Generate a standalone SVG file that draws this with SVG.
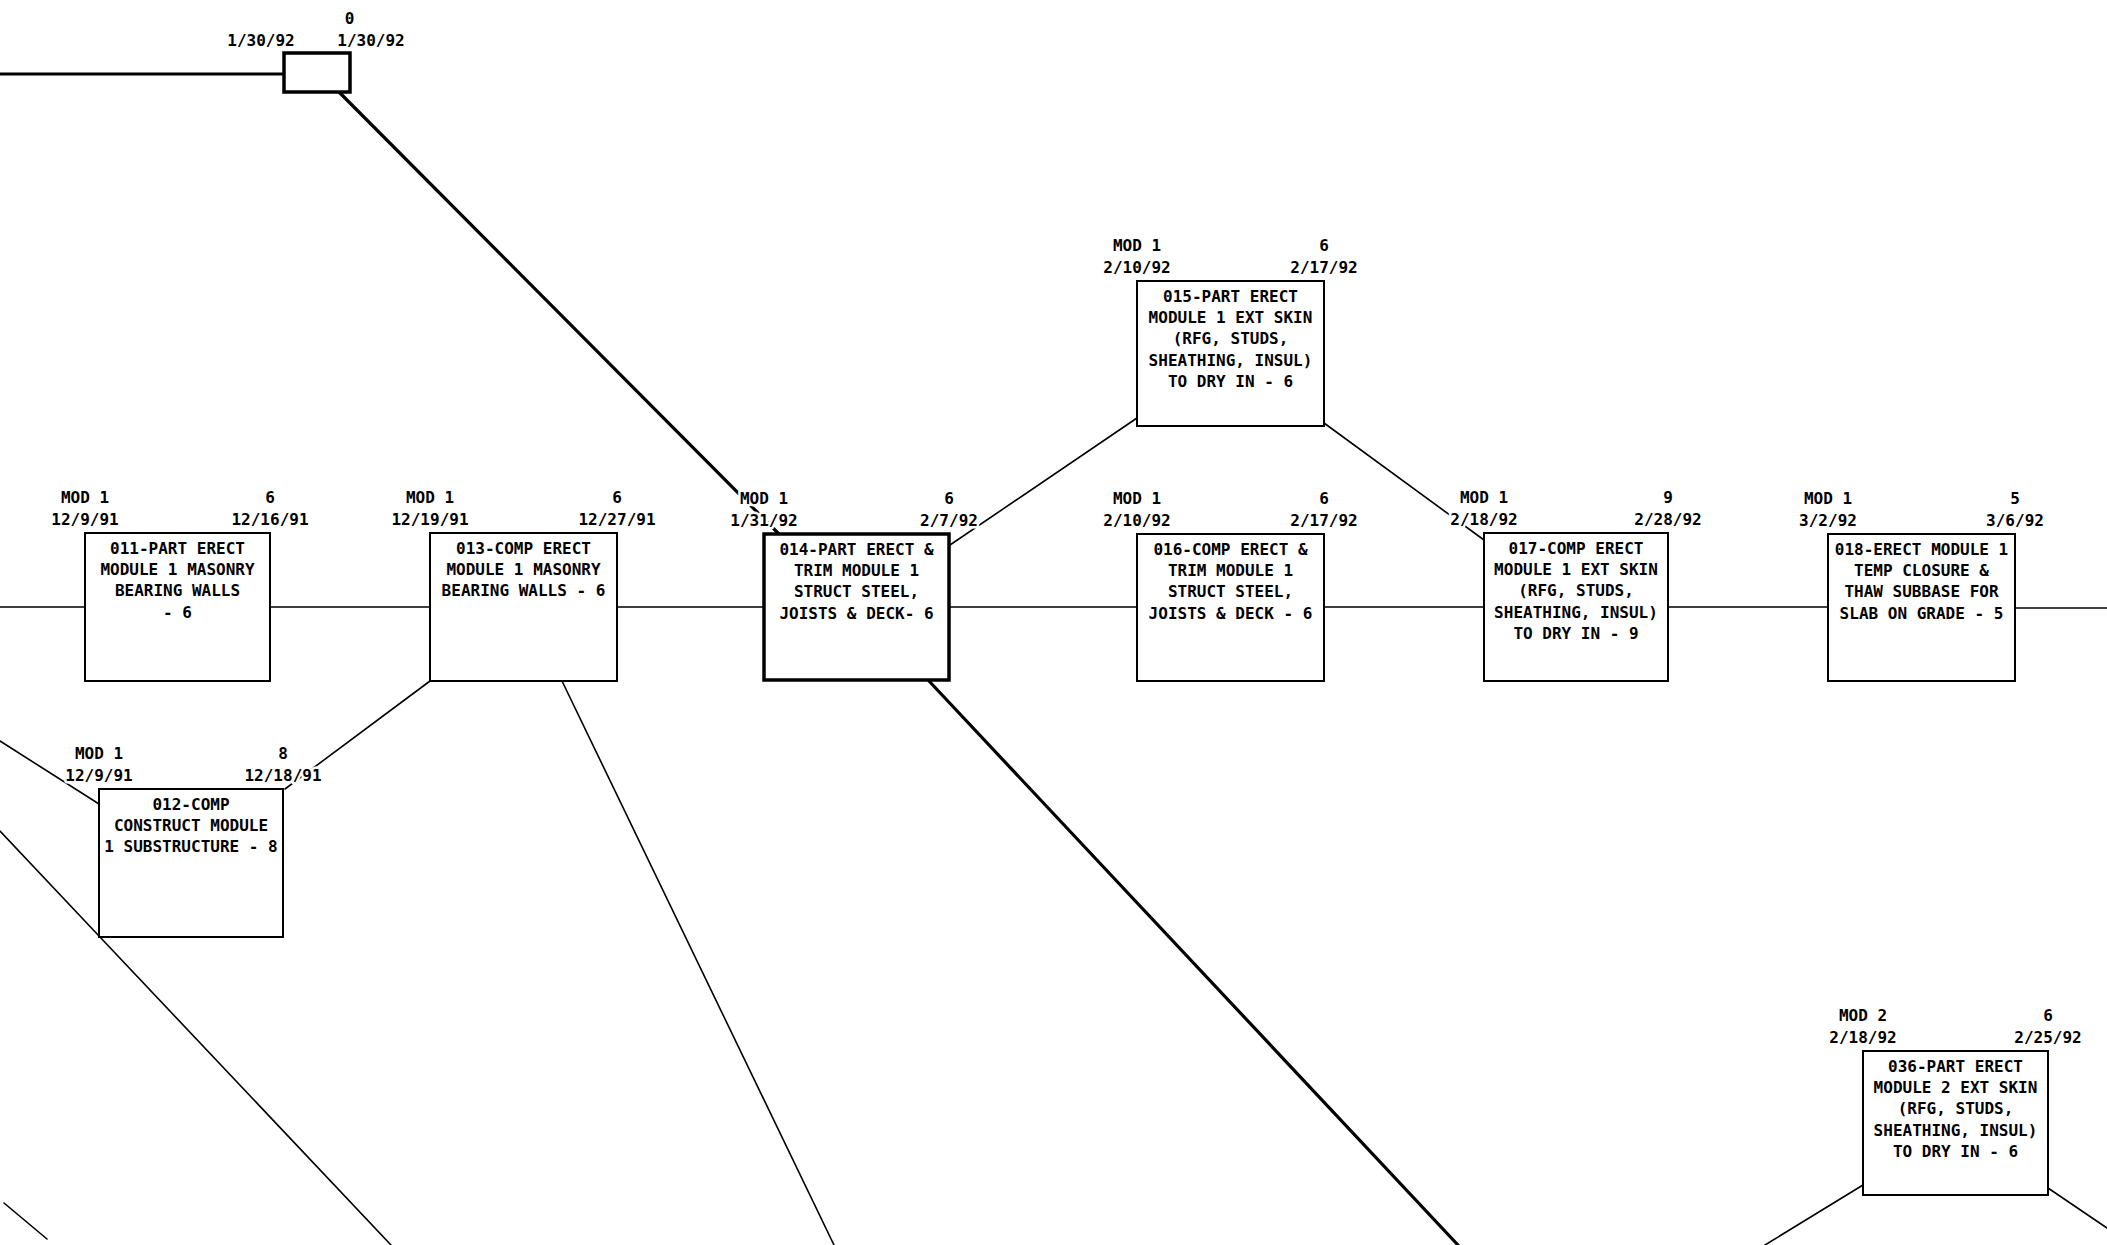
<svg xmlns="http://www.w3.org/2000/svg" width="2107" height="1245" viewBox="0 0 2107 1245">
<style>
.bg{fill:#fff}
.box{fill:#fff;stroke:#000;stroke-width:2}
.thick{stroke-width:3.5}
text{font-family:"DejaVu Sans Mono","Liberation Mono",monospace;font-weight:bold;font-size:16px;text-anchor:middle;fill:#000}
.lbl{paint-order:stroke;stroke:#fff;stroke-width:5;stroke-linejoin:round}
.c{fill:none;stroke:#000;stroke-width:1.6;stroke-linecap:round}
.ct{stroke-width:3.2}
</style>
<rect class="bg" x="0" y="0" width="2107" height="1245"/>
<g id="connectors">
<line class="c ct" x1="0" y1="74" x2="284" y2="74"/>
<line class="c ct" x1="339" y1="92" x2="779" y2="534"/>
<line class="c" x1="0" y1="607" x2="85" y2="607"/>
<line class="c" x1="270" y1="607" x2="430" y2="607"/>
<line class="c" x1="617" y1="607" x2="764" y2="607"/>
<line class="c" x1="949" y1="607" x2="1137" y2="607"/>
<line class="c" x1="1324" y1="607" x2="1484" y2="607"/>
<line class="c" x1="1668" y1="607" x2="1828" y2="607"/>
<line class="c" x1="2015" y1="608" x2="2107" y2="608"/>
<line class="c" x1="430" y1="681" x2="285" y2="789"/>
<line class="c" x1="0" y1="741" x2="99" y2="804"/>
<line class="c" x1="0" y1="831" x2="99" y2="936"/>
<line class="c" x1="99" y1="936" x2="391" y2="1245"/>
<line class="c" x1="4" y1="1203" x2="47" y2="1239"/>
<line class="c" x1="562" y1="681" x2="834" y2="1245"/>
<line class="c ct" x1="929" y1="681" x2="1458" y2="1245"/>
<line class="c" x1="950" y1="545" x2="1137" y2="418"/>
<line class="c" x1="1324" y1="423" x2="1484" y2="540"/>
<line class="c" x1="1863" y1="1185" x2="1765" y2="1245"/>
<line class="c" x1="2048" y1="1188" x2="2107" y2="1228"/>
</g>
<g id="m000">
<rect class="box thick" x="284" y="53" width="66" height="39"/>
<text class="lbl" x="349.5" y="24">0</text>
<text class="lbl" x="261" y="46">1/30/92</text>
<text class="lbl" x="371" y="46">1/30/92</text>
</g>
<g id="n011">
<rect class="box" x="85" y="533" width="185" height="148"/>
<text class="lbl" x="85" y="503">MOD 1</text>
<text class="lbl" x="85" y="525">12/9/91</text>
<text class="lbl" x="270" y="503">6</text>
<text class="lbl" x="270" y="525">12/16/91</text>
<text x="177.5" y="554">011-PART ERECT</text>
<text x="177.5" y="575">MODULE 1 MASONRY</text>
<text x="177.5" y="596">BEARING WALLS</text>
<text x="177.5" y="618">- 6</text>
</g>
<g id="n012">
<rect class="box" x="99" y="789" width="184" height="148"/>
<text class="lbl" x="99" y="759">MOD 1</text>
<text class="lbl" x="99" y="781">12/9/91</text>
<text class="lbl" x="283" y="759">8</text>
<text class="lbl" x="283" y="781">12/18/91</text>
<text x="191" y="810">012-COMP</text>
<text x="191" y="831">CONSTRUCT MODULE</text>
<text x="191" y="852">1 SUBSTRUCTURE - 8</text>
</g>
<g id="n013">
<rect class="box" x="430" y="533" width="187" height="148"/>
<text class="lbl" x="430" y="503">MOD 1</text>
<text class="lbl" x="430" y="525">12/19/91</text>
<text class="lbl" x="617" y="503">6</text>
<text class="lbl" x="617" y="525">12/27/91</text>
<text x="523.5" y="554">013-COMP ERECT</text>
<text x="523.5" y="575">MODULE 1 MASONRY</text>
<text x="523.5" y="596">BEARING WALLS - 6</text>
</g>
<g id="n014">
<rect class="box thick" x="764" y="534" width="185" height="146"/>
<text class="lbl" x="764" y="504">MOD 1</text>
<text class="lbl" x="764" y="526">1/31/92</text>
<text class="lbl" x="949" y="504">6</text>
<text class="lbl" x="949" y="526">2/7/92</text>
<text x="856.5" y="555">014-PART ERECT &amp;</text>
<text x="856.5" y="576">TRIM MODULE 1</text>
<text x="856.5" y="597">STRUCT STEEL,</text>
<text x="856.5" y="619">JOISTS &amp; DECK- 6</text>
</g>
<g id="n015">
<rect class="box" x="1137" y="281" width="187" height="145"/>
<text class="lbl" x="1137" y="251">MOD 1</text>
<text class="lbl" x="1137" y="273">2/10/92</text>
<text class="lbl" x="1324" y="251">6</text>
<text class="lbl" x="1324" y="273">2/17/92</text>
<text x="1230.5" y="302">015-PART ERECT</text>
<text x="1230.5" y="323">MODULE 1 EXT SKIN</text>
<text x="1230.5" y="344">(RFG, STUDS,</text>
<text x="1230.5" y="366">SHEATHING, INSUL)</text>
<text x="1230.5" y="387">TO DRY IN - 6</text>
</g>
<g id="n016">
<rect class="box" x="1137" y="534" width="187" height="147"/>
<text class="lbl" x="1137" y="504">MOD 1</text>
<text class="lbl" x="1137" y="526">2/10/92</text>
<text class="lbl" x="1324" y="504">6</text>
<text class="lbl" x="1324" y="526">2/17/92</text>
<text x="1230.5" y="555">016-COMP ERECT &amp;</text>
<text x="1230.5" y="576">TRIM MODULE 1</text>
<text x="1230.5" y="597">STRUCT STEEL,</text>
<text x="1230.5" y="619">JOISTS &amp; DECK - 6</text>
</g>
<g id="n017">
<rect class="box" x="1484" y="533" width="184" height="148"/>
<text class="lbl" x="1484" y="503">MOD 1</text>
<text class="lbl" x="1484" y="525">2/18/92</text>
<text class="lbl" x="1668" y="503">9</text>
<text class="lbl" x="1668" y="525">2/28/92</text>
<text x="1576" y="554">017-COMP ERECT</text>
<text x="1576" y="575">MODULE 1 EXT SKIN</text>
<text x="1576" y="596">(RFG, STUDS,</text>
<text x="1576" y="618">SHEATHING, INSUL)</text>
<text x="1576" y="639">TO DRY IN - 9</text>
</g>
<g id="n018">
<rect class="box" x="1828" y="534" width="187" height="147"/>
<text class="lbl" x="1828" y="504">MOD 1</text>
<text class="lbl" x="1828" y="526">3/2/92</text>
<text class="lbl" x="2015" y="504">5</text>
<text class="lbl" x="2015" y="526">3/6/92</text>
<text x="1921.5" y="555">018-ERECT MODULE 1</text>
<text x="1921.5" y="576">TEMP CLOSURE &amp;</text>
<text x="1921.5" y="597">THAW SUBBASE FOR</text>
<text x="1921.5" y="619">SLAB ON GRADE - 5</text>
</g>
<g id="n036">
<rect class="box" x="1863" y="1051" width="185" height="144"/>
<text class="lbl" x="1863" y="1021">MOD 2</text>
<text class="lbl" x="1863" y="1043">2/18/92</text>
<text class="lbl" x="2048" y="1021">6</text>
<text class="lbl" x="2048" y="1043">2/25/92</text>
<text x="1955.5" y="1072">036-PART ERECT</text>
<text x="1955.5" y="1093">MODULE 2 EXT SKIN</text>
<text x="1955.5" y="1114">(RFG, STUDS,</text>
<text x="1955.5" y="1136">SHEATHING, INSUL)</text>
<text x="1955.5" y="1157">TO DRY IN - 6</text>
</g>
</svg>
